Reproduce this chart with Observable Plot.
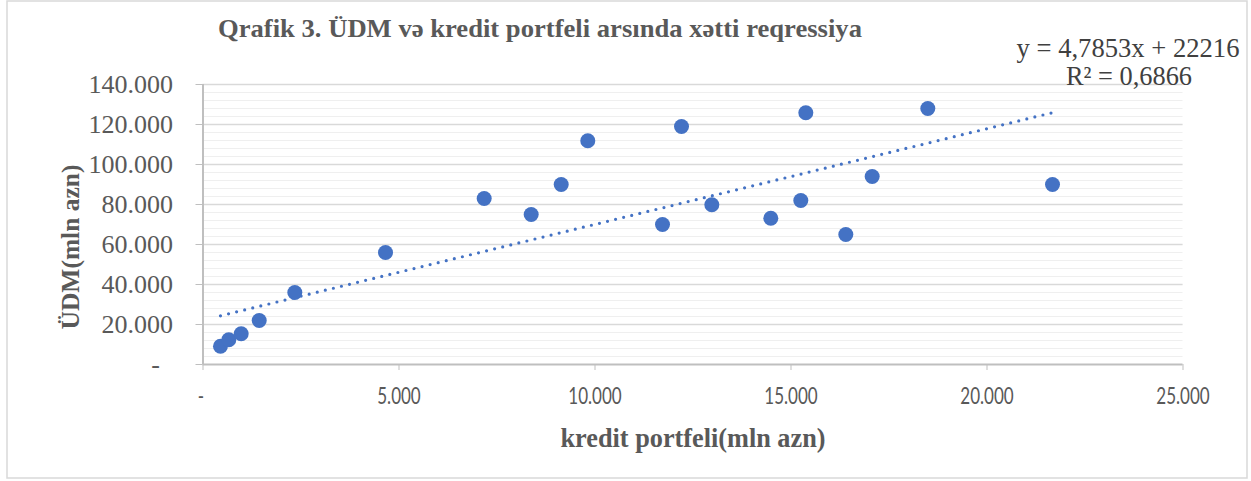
<!DOCTYPE html>
<html>
<head>
<meta charset="utf-8">
<script src="https://cdn.jsdelivr.net/npm/d3@7"></script>
<script src="https://cdn.jsdelivr.net/npm/@observablehq/plot@0.6"></script>
<style>
  html, body { margin: 0; padding: 0; background: #fff; }
  #chart { position: relative; width: 1251px; height: 481px; }
</style>
</head>
<body>
<div id="chart"></div>
<script>
// Data
const kredit = [446, 658, 974, 1434, 2342, 4656, 7173, 8372, 9138, 9816, 11722, 12207, 12980, 14485, 15250, 15378, 16398, 17071, 18490, 21671];
const udm    = [9150, 12350, 15350, 22000, 36000, 56000, 83000, 75000, 90000, 111850, 70000, 119000, 79850, 73150, 82000, 125850, 65000, 94000, 128000, 90000];
const xTicks = [0, 5000, 10000, 15000, 20000, 25000];
const yTicks = [0, 20000, 40000, 60000, 80000, 100000, 120000, 140000];
const yMinorTicks = d3.range(0, 140001, 4000);
const slope = 4.7853, intercept = 22216, r2 = "0,6866";
const title = "Qrafik 3. ÜDM və kredit portfeli arsında xətti reqressiya";
const xLabel = "kredit portfeli(mln azn)";
const yLabel = "ÜDM(mln azn)";
const equation = "y = 4,7853x + 22216";
const r2Text = "R² = " + r2;

const points = kredit.map((x, i) => ({x, y: udm[i]}));
const xMin = d3.min(kredit), xMax = d3.max(kredit);
const trend = [xMin, xMax].map(x => ({x, y: slope * x + intercept}));

const fmt = d => d === 0 ? "-\u00a0\u00a0" : d3.format(",")(d).replace(/,/g, ".");
const fmtX = d => d === 0 ? "-\u00a0" : d3.format(",")(d).replace(/,/g, ".");

const grey = "#595959";
const blue = "#4472c4";

const svg = Plot.plot({
  width: 1251,
  height: 481,
  marginLeft: 202.5,
  marginRight: 68.5,
  marginTop: 84,
  marginBottom: 117,
  style: {background: "transparent", overflow: "visible"},
  x: {domain: [0, 25000]},
  y: {domain: [0, 140000]},
  marks: [
    Plot.ruleY(yMinorTicks, {stroke: "#efefef", strokeWidth: 1.2}),
    Plot.ruleY(yTicks.filter(d => d > 0), {stroke: "#d9d9d9", strokeWidth: 1.6}),
    Plot.axisY(yTicks, {tickSize: 7, tickPadding: 23, tickFormat: fmt, stroke: "#bfbfbf", fill: grey, fontSize: 26, label: null}),
    Plot.axisX(xTicks, {tickSize: 6, tickPadding: 17, tickFormat: fmtX, stroke: "#bfbfbf", fill: grey, fontSize: 23, label: null}),
    Plot.ruleX([0], {stroke: "#bfbfbf", strokeWidth: 2}),
    Plot.ruleY([0], {stroke: "#bfbfbf", strokeWidth: 2}),
    Plot.dot(points, {x: "x", y: "y", r: 7.5, fill: blue, stroke: "none"}),
    Plot.line(trend, {x: "x", y: "y", stroke: blue, strokeWidth: 3.2, strokeDasharray: "0 8.3", strokeLinecap: "round"})
  ]
});

document.getElementById("chart").appendChild(svg);
const s = d3.select(svg);

// fonts for axes
s.selectAll("g[aria-label='y-axis tick label']").attr("font-family", "'Liberation Serif', 'Times New Roman', serif").attr("fill", grey);
const xl = s.selectAll("g[aria-label='x-axis tick label']").attr("font-family", "Lato, 'Liberation Sans', sans-serif").attr("fill", grey);
xl.selectAll("text").each(function() {
  const len = this.getComputedTextLength();
  this.setAttribute("textLength", (len * 0.74).toFixed(1));
  this.setAttribute("lengthAdjust", "spacingAndGlyphs");
});

// Outer border
s.insert("rect", ":first-child")
  .attr("x", 7).attr("y", 1).attr("width", 1240).attr("height", 477)
  .attr("fill", "#fff").attr("stroke", "#d9d9d9").attr("stroke-width", 1.5);

// Title
s.append("text").text(title)
  .attr("x", 540).attr("y", 37).attr("text-anchor", "middle")
  .attr("font-family", "'Liberation Serif', 'Times New Roman', serif")
  .attr("font-weight", "bold").attr("font-size", 26).attr("fill", grey)
  .attr("textLength", 644).attr("lengthAdjust", "spacingAndGlyphs");

// Equation
s.append("text").text(equation)
  .attr("x", 1128).attr("y", 57).attr("text-anchor", "middle")
  .attr("font-family", "'Liberation Serif', 'Times New Roman', serif")
  .attr("font-size", 27).attr("fill", "#404040")
  .attr("textLength", 223).attr("lengthAdjust", "spacingAndGlyphs");
s.append("text").text(r2Text)
  .attr("x", 1129).attr("y", 85).attr("text-anchor", "middle")
  .attr("font-family", "'Liberation Serif', 'Times New Roman', serif")
  .attr("font-size", 27).attr("fill", "#404040")
  .attr("textLength", 126).attr("lengthAdjust", "spacingAndGlyphs");

// Axis titles
s.append("text").text(xLabel)
  .attr("x", 693).attr("y", 447).attr("text-anchor", "middle")
  .attr("font-family", "'Liberation Serif', 'Times New Roman', serif")
  .attr("font-weight", "bold").attr("font-size", 27).attr("fill", grey)
  .attr("textLength", 265).attr("lengthAdjust", "spacingAndGlyphs");
s.append("text").text(yLabel)
  .attr("transform", "translate(79,247) rotate(-90)").attr("text-anchor", "middle")
  .attr("font-family", "'Liberation Serif', 'Times New Roman', serif")
  .attr("font-weight", "bold").attr("font-size", 26).attr("fill", grey)
  .attr("textLength", 165).attr("lengthAdjust", "spacingAndGlyphs");
</script>
</body>
</html>
